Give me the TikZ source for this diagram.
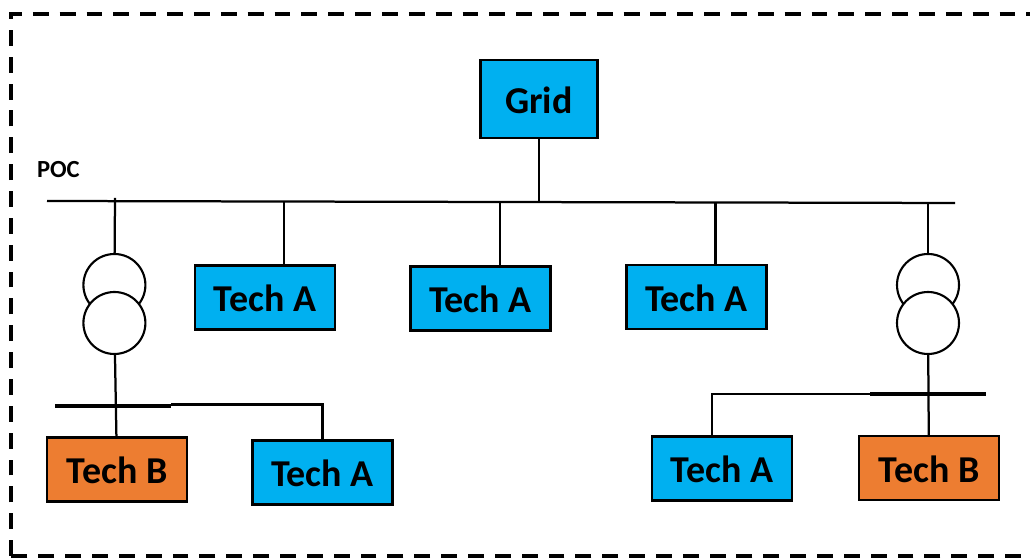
\documentclass[tikz,border=0pt]{standalone}
\usepackage{fontspec}
\setmainfont{Carlito}
\usepackage{xcolor}
\definecolor{techblue}{HTML}{00B0F0}
\definecolor{techorange}{HTML}{ED7D31}
\tikzstyle{line} = [line width=1.6pt]
\tikzstyle{busbar} = [line width=2.4pt]
\tikzstyle{techbox} = [draw,rectangle,line width=1.7pt,minimum width=3.5cm,minimum height=1.6cm,font=\fontsize{27}{29}\selectfont\bfseries,inner sep=0pt,text height=0.71cm,text depth=0cm]
\tikzstyle{coil} = [draw,circle,line width=1.5pt,fill=white,minimum size=1.55cm,inner sep=0pt]

\begin{document}
\begin{tikzpicture}
            \useasboundingbox (0,0) rectangle (25.75,13.95);
            \clip (0,0) rectangle (25.75,13.95);
            % frame
            \draw[line width=2.6pt,dash pattern=on 11.3pt off 7.8pt] (0.275,0.05) rectangle (26.2,13.6);
            % bus points
            \coordinate (busl) at (1.175,8.925);
            \coordinate (busr) at (23.875,8.875);
            \coordinate (tapl) at (2.875,9.0);
            \coordinate (tap1) at (7.1,8.91);
            \coordinate (tap2) at (12.5,8.9);
            \coordinate (tapg) at (13.475,8.9);
            \coordinate (tap3) at (17.89,8.89);
            \coordinate (tapr) at (23.2,8.88);
            \coordinate (barl1) at (1.375,3.8);
            \coordinate (barl2) at (4.275,3.8);
            \coordinate (barr1) at (21.75,4.1);
            \coordinate (barr2) at (24.65,4.1);
            \coordinate (cornl) at (8.0625,3.84);
            \coordinate (cornr) at (17.8,4.1);
            % boxes
            \node[techbox,fill=techblue,minimum width=2.925cm,minimum height=1.95cm] (grid) at (13.475,11.475) {Grid};
            \node[techbox,fill=techblue] (a1) at (6.625,6.5125) {Tech A};
            \node[techbox,fill=techblue] (a2) at (12.0125,6.4875) {Tech A};
            \node[techbox,fill=techblue] (a3) at (17.4125,6.525) {Tech A};
            \node[techbox,fill=techorange] (bl) at (2.925,2.2125) {Tech B};
            \node[techbox,fill=techblue] (al) at (8.0625,2.1375) {Tech A};
            \node[techbox,fill=techblue] (ar) at (18.05,2.2375) {Tech A};
            \node[techbox,fill=techorange] (br) at (23.225,2.25) {Tech B};
            \node[font=\fontsize{17.5}{20}\selectfont\bfseries,inner sep=0pt] (poc) at (1.46,9.7) {POC};
            % transformers
            \node[coil] (t1u) at (2.86,6.825) {};
            \node[coil] (t1l) at (2.86,5.875) {};
            \node[coil] (t2u) at (23.2,6.825) {};
            \node[coil] (t2l) at (23.2,5.875) {};
            % lines
            \draw[line] (busl) -- (busr);
            \draw[line] (grid) -- (tapg);
            \draw[line] (tapl) -- (t1u);
            \draw[line] (tap1) -- (tap1 |- a1.north);
            \draw[line] (tap2) -- (tap2 |- a2.north);
            \draw[line] (tap3) -- (tap3 |- a3.north);
            \draw[line] (tapr) -- (t2u);
            \draw[line] (t1l) -- (bl);
            \draw[line] (t2l) -- (br);
            \draw[busbar] (barl1) -- (barl2);
            \draw[busbar] (barr1) -- (barr2);
            \draw[line] (barl2 |- cornl) -- (cornl) -- (al);
            \draw[line] (barr1) -- (cornr) -- (cornr |- ar.north);
        \end{tikzpicture}
\end{document}
